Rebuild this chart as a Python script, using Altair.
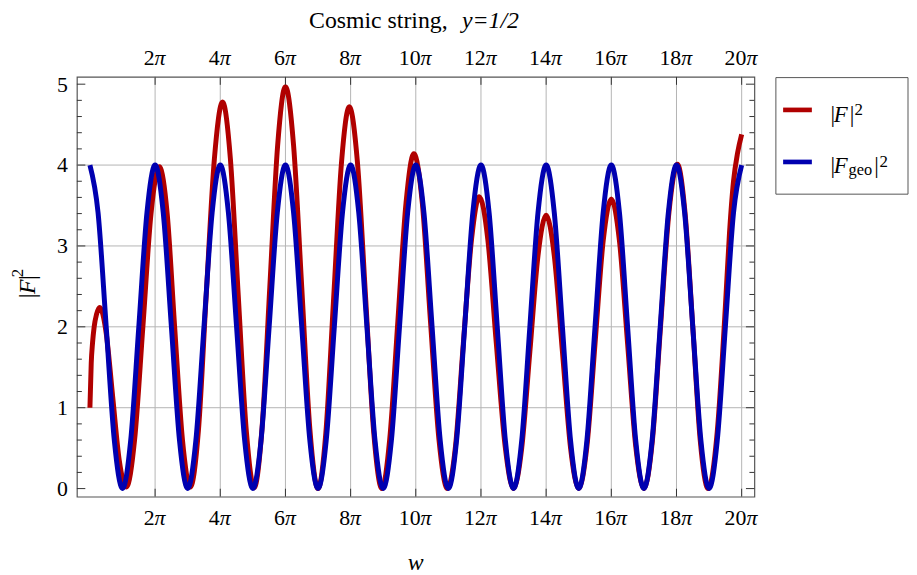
import altair as alt
import pandas as pd

# ---------------- data (w in units of pi) ----------------
BLUE_W = [0, 0.25, 0.5, 0.75, 1, 1.25, 1.5, 1.75, 2, 2.25, 2.5, 2.75, 3, 3.25, 3.5, 3.75,
          4, 4.25, 4.5, 4.75, 5, 5.25, 5.5, 5.75, 6, 6.25, 6.5, 6.75, 7, 7.25, 7.5, 7.75,
          8, 8.25, 8.5, 8.75, 9, 9.25, 9.5, 9.75, 10, 10.25, 10.5, 10.75, 11, 11.25, 11.5, 11.75,
          12, 12.25, 12.5, 12.75, 13, 13.25, 13.5, 13.75, 14, 14.25, 14.5, 14.75, 15, 15.25, 15.5, 15.75,
          16, 16.25, 16.5, 16.75, 17, 17.25, 17.5, 17.75, 18, 18.25, 18.5, 18.75, 19, 19.25, 19.5, 19.75,
          20]
BLUE_V = [4, 3.41, 2, 0.59, 0, 0.59, 2, 3.41, 4, 3.41, 2, 0.59, 0, 0.59, 2, 3.41,
          4, 3.41, 2, 0.59, 0, 0.59, 2, 3.41, 4, 3.41, 2, 0.59, 0, 0.59, 2, 3.41,
          4, 3.41, 2, 0.59, 0, 0.59, 2, 3.41, 4, 3.41, 2, 0.59, 0, 0.59, 2, 3.41,
          4, 3.41, 2, 0.59, 0, 0.59, 2, 3.41, 4, 3.41, 2, 0.59, 0, 0.59, 2, 3.41,
          4, 3.41, 2, 0.59, 0, 0.59, 2, 3.41, 4, 3.41, 2, 0.59, 0, 0.59, 2, 3.41,
          4]

RED_W = [0, 0.04, 0.08, 0.13, 0.2, 0.3,
         0.5, 0.7, 0.9, 1.12,
         1.37, 1.625, 1.875, 2.13,
         2.37, 2.6, 2.84, 3.08,
         3.33, 3.57, 3.82, 4.07,
         4.31, 4.55, 4.8, 5.04,
         5.28, 5.52, 5.76, 6.0,
         6.25, 6.5, 6.75, 7.0,
         7.24, 7.48, 7.72, 7.96,
         8.21, 8.46, 8.71, 8.96,
         9.2, 9.45, 9.7, 9.94,
         10.2, 10.45, 10.71, 10.97,
         11.22, 11.46, 11.71, 11.95,
         12.21, 12.47, 12.74, 13.0,
         13.25, 13.5, 13.75, 14.0,
         14.25, 14.5, 14.75, 15.0,
         15.25, 15.5, 15.75, 16.0,
         16.25, 16.5, 16.75, 17.0,
         17.26, 17.51, 17.77, 18.03,
         18.26, 18.5, 18.73, 18.97,
         19.25, 19.5, 19.625, 19.75, 19.875, 20.0]
RED_V = [1.0, 1.55, 1.8, 2.0, 2.15, 2.24,
         1.92, 1.13, 0.35, 0.02,
         0.6, 2.0, 3.4, 3.98,
         3.4, 2.0, 0.6, 0.02,
         0.72, 2.4, 4.08, 4.78,
         4.08, 2.4, 0.71, 0.01,
         0.74, 2.49, 4.24, 4.97,
         4.24, 2.49, 0.73, 0.0,
         0.69, 2.36, 4.03, 4.72,
         4.03, 2.36, 0.69, 0.0,
         0.61, 2.07, 3.53, 4.14,
         3.53, 2.07, 0.61, 0.0,
         0.53, 1.8, 3.08, 3.61,
         3.08, 1.8, 0.53, 0.0,
         0.5, 1.69, 2.88, 3.38,
         2.88, 1.69, 0.5, 0.0,
         0.52, 1.79, 3.06, 3.58,
         3.06, 1.79, 0.52, 0.0,
         0.59, 2.0, 3.42, 4.01,
         3.42, 2.0, 0.59, 0.0,
         0.7, 2.25, 3.15, 3.8, 4.15, 4.38]

X_TICKS_1 = [2, 4, 6, 8]
X_TICKS_2 = [10, 12, 14, 16, 18, 20]
X_GRID = [2, 4, 6, 8, 10, 12, 14, 16, 18, 20]
Y_MAJOR = [0, 1, 2, 3, 4, 5]
Y_MINOR = [0.2, 0.4, 0.6, 0.8, 1.2, 1.4, 1.6, 1.8, 2.2, 2.4, 2.6, 2.8,
           3.2, 3.4, 3.6, 3.8, 4.2, 4.4, 4.6, 4.8]
Y_GRID = [1, 2, 3, 4]

TITLE_MAIN = "Cosmic string,"
TITLE_PARAM = "y=1/2"
X_TITLE = "w"
LEG_LABELS = ["F", "F"]
LEG_SUB = "geo"

# ---------------- style ----------------
SERIF = "Liberation Serif"
RED = "#B00000"
BLUE = "#0000B0"
GRID = "#b4b4b4"
TICK = "#333333"
W, H = 683.5, 423.5

XS = alt.Scale(domain=[-0.4, 20.39], nice=False, zero=False)
YS = alt.Scale(domain=[-0.1, 5.09], nice=False, zero=False)
YA = alt.Axis(values=Y_MAJOR, format="d", labels=True, ticks=False, tickSize=0,
              domain=False, grid=False, title=None, labelFont=SERIF,
              labelFontSize=22, labelColor="black", labelPadding=9.5)

df_red = pd.DataFrame({"w": RED_W, "v": RED_V})
df_blue = pd.DataFrame({"w": BLUE_W, "v": BLUE_V})


def xq():
    return alt.X("w:Q", scale=XS, axis=None)


def yq():
    return alt.Y("v:Q", scale=YS, axis=YA)


layers = []

# grid lines
layers.append(alt.Chart(pd.DataFrame({"v": Y_GRID})).mark_rule(color=GRID, strokeWidth=1)
              .encode(y=yq(), x=alt.value(0), x2=alt.value(W)))
layers.append(alt.Chart(pd.DataFrame({"w": X_GRID})).mark_rule(color=GRID, strokeWidth=1)
              .encode(x=xq(), y=alt.value(0), y2=alt.value(H)))

# curves
layers.append(alt.Chart(df_red).mark_line(color=RED, strokeWidth=5, interpolate="monotone",
                                          strokeCap="butt")
              .encode(x=xq(), y=yq()))
layers.append(alt.Chart(df_blue).mark_line(color=BLUE, strokeWidth=5, interpolate="monotone",
                                           strokeCap="butt")
              .encode(x=xq(), y=yq()))

# inward frame ticks
for vals, ln in ((Y_MAJOR, 8.5), (Y_MINOR, 5)):
    d = pd.DataFrame({"v": vals})
    layers.append(alt.Chart(d).mark_rule(color=TICK, strokeWidth=1)
                  .encode(y=yq(), x=alt.value(0), x2=alt.value(ln)))
    layers.append(alt.Chart(d).mark_rule(color=TICK, strokeWidth=1)
                  .encode(y=yq(), x=alt.value(W), x2=alt.value(W - ln)))
dx_ = pd.DataFrame({"w": X_GRID})
layers.append(alt.Chart(dx_).mark_rule(color=TICK, strokeWidth=1)
              .encode(x=xq(), y=alt.value(H), y2=alt.value(H - 8)))
layers.append(alt.Chart(dx_).mark_rule(color=TICK, strokeWidth=1)
              .encode(x=xq(), y=alt.value(0), y2=alt.value(8)))

# x tick labels (number + italic pi), bottom and top
for ticks, shift in ((X_TICKS_1, -0.5), (X_TICKS_2, 4.8)):
    d = pd.DataFrame({"w": ticks, "num": [str(t) for t in ticks], "pi": ["\u03c0"] * len(ticks)})
    for ypos in (452, -11.7):
        layers.append(alt.Chart(d).mark_text(font=SERIF, fontSize=22, align="right",
                                             baseline="alphabetic", dx=shift, color="black")
                      .encode(x=xq(), y=alt.value(ypos), text="num:N"))
        layers.append(alt.Chart(d).mark_text(font=SERIF, fontSize=22, fontStyle="italic",
                                             align="left", baseline="alphabetic", dx=shift,
                                             color="black")
                      .encode(x=xq(), y=alt.value(ypos), text="pi:N"))


def txt(s, x, y, size=23, style="normal", align="left", angle=0):
    return (alt.Chart(pd.DataFrame({"t": [s]}))
            .mark_text(font=SERIF, fontSize=size, fontStyle=style, align=align,
                       baseline="alphabetic", angle=angle, color="black")
            .encode(x=alt.value(x), y=alt.value(y), text="t:N"))


# title
layers.append(txt(TITLE_MAIN, 234.2, -49, size=24))
layers.append(txt(TITLE_PARAM, 388.5, -49, size=24, style="italic"))

# x axis title
layers.append(txt(X_TITLE, W / 2, 497.5, size=24, style="italic", align="center"))

# y axis title |F|^2 (rotated)
layers.append(txt("|", -42, 223.4, size=24, angle=270))
layers.append(txt("F", -42, 219, size=24, style="italic", angle=270))
layers.append(txt("|", -42, 205, size=24, angle=270))
layers.append(txt("2", -54, 202, size=17, angle=270))

# legend box
layers.append(alt.Chart(pd.DataFrame({"t": [0]})).mark_rect(fill="white", stroke="#555555",
                                                             strokeWidth=1)
              .encode(x=alt.value(705.2), x2=alt.value(838.5), y=alt.value(0.7), y2=alt.value(118.3)))
layers.append(alt.Chart(pd.DataFrame({"t": [0]})).mark_rule(color=RED, strokeWidth=4.7, strokeCap="butt")
              .encode(x=alt.value(712.5), x2=alt.value(741.5), y=alt.value(33.3)))
layers.append(alt.Chart(pd.DataFrame({"t": [0]})).mark_rule(color=BLUE, strokeWidth=4.7, strokeCap="butt")
              .encode(x=alt.value(712.5), x2=alt.value(741.5), y=alt.value(85.8)))
# row 1
layers.append(txt("|", 760.2, 45))
layers.append(txt(LEG_LABELS[0], 763.5, 45, style="italic"))
layers.append(txt("|", 779.7, 45))
layers.append(txt("2", 784.5, 38.5, size=17))
# row 2
layers.append(txt("|", 760.2, 96.7))
layers.append(txt(LEG_LABELS[1], 763.5, 96.7, style="italic"))
layers.append(txt(LEG_SUB, 778.5, 98.5, size=16.5))
layers.append(txt("|", 804.5, 96.7))
layers.append(txt("2", 809.8, 91, size=17))

chart = (alt.layer(*layers)
         .properties(width=W, height=H,
                     padding={"left": 69.5, "top": 67, "right": 156, "bottom": 76},
                     autosize=alt.AutoSizeParams(type="none"),
                     background="white")
         .configure_view(stroke="#555555", strokeWidth=1.2))

chart.save("out.html", embed_options={"renderer": "svg", "actions": False})
